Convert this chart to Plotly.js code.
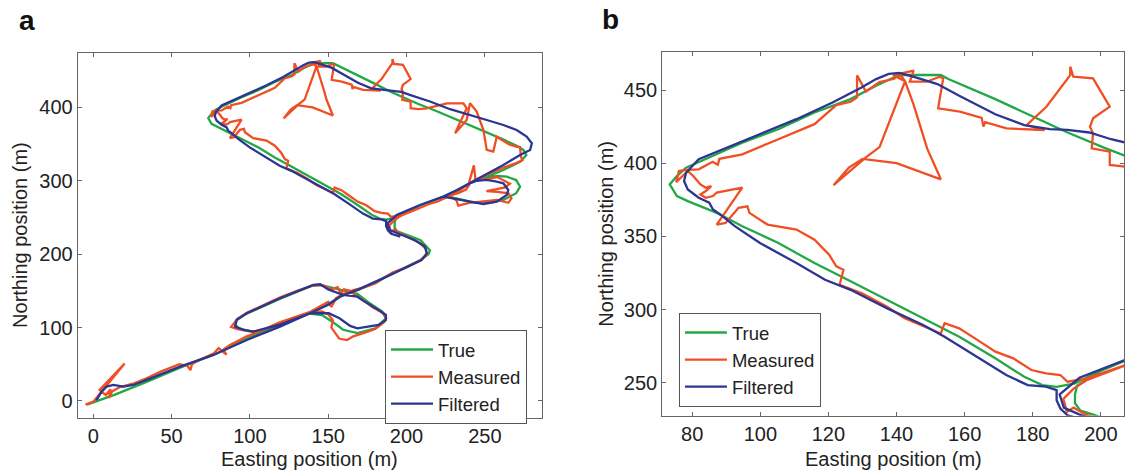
<!DOCTYPE html>
<html>
<head>
<meta charset="utf-8">
<script src="https://cdn.plot.ly/plotly-3.0.1.min.js"></script>
<style>html,body{margin:0;padding:0;background:#fff;}#chart{width:1128px;height:474px;}</style>
</head>
<body>
<div id="chart"></div>
<script>
// ---- Data (metres) ----
const seriesNames = ["True", "Measured", "Filtered"];

const trueX = [-4,4,13,34,55,77,98,104,119,138,146,152.6,159.5,168.6,180,186.8,184.5,176,168.6,160,153,145,140,119,98,92,90,93,100,104,119,138,150,160,170,191,209,214,215,212,209,198,194,192.4,192.4,193,200,208,216,223,232,240.5,249,257.6,264,270,272.5,270,262,249,240.5,232,225,232,240.5,249,261.8,272.5,274,276.5,274.6,270,262,249,235,219,207.2,200.9,190.2,179.6,169,155.2,153,142.4,139.3,134,126.5,115.9,105.3,94.7,84,78.2,75.5,73.4,75.5,78.7,87.2,94.7,105.3,115.9,126.5,137.1,147.8,158.4,169,177.5,182.8,187,192.4,200.9];
const trueY = [-5,1,8,26,45,63,84,91,104,119,117,108,97,92.5,99,112.6,121.7,134,146,150,153.5,158,157.5,139,119,112,105,99,95,93,104,119,132,145,152,174,192,200,205,212,219,228,231,236,242,248,258,266,272,278,287,296.6,303.4,306.5,305.6,301,292,283,274,269.3,271.6,276,278.5,287,296.6,303.4,314.7,326,329,335,342,348,356,368,381,395,405,410.7,421,432.4,443.8,457.5,460.3,460.3,458.7,452.9,443.8,434.7,423.3,414,402.7,397,391.2,385.5,377.5,374.1,366.1,357,345.5,331.8,319.3,306.7,294.1,281.5,266.7,254.1,248.4,247.2,249.5,259.8];

const measX = [-5,0,20,4,8,11,10,12,17,26,34,43,55,60,62,63,66,77,80,85,83,87,98,104,119,130,138,146,150,153,152,156,157,162,166,172,180,186,187,185,178,175,168,164,160,158,156,152,146,140,130,119,108,98,92,89,88,92,95,100,106,112,119,130,138,144,150,152,155,160,166,172,180,191,200,209,213,212,208,200,195,192,190,189,192,196,205,214,220,228,233,238,240,240,243,244,250,258,266,263,256,251,258,265,267,265,258,250,240,233,232,228,236,243,252,262,270,274,273,272.5,270,265,257.6,255.4,251.2,249.1,244.8,240.5,238.4,231,238.4,236.3,225.7,212.9,207.5,202.6,202.6,197.3,197.7,196.8,197.7,202.6,197.7,191.9,191,191,184,178.2,183.5,172.3,166,165.5,165,158.6,152.2,153.7,152.7,148.8,143.9,145,139,142.5,135,131,121.5,126,130,140,153,149,147,145,142.5,140.9,139.3,135,131,128.4,128.4,126.5,122.3,115.9,105.3,94.7,88,87.5,86,81.9,78.2,76.1,75.3,78.7,80.3,82.4,84,85.6,84,82.4,84,86.1,87.2,94.7,87.2,89.8,93.6,96.2,96.8,102.1,110.6,115.9,120.2,122.3,124.4,123.3,130,137.1,142.4,153,154.1,158.4,163.7,169,174.3,179.6,183.9,188.1,190.2,196,207.2];
const measY = [-5,-1,51,15,8,16,4,13,19,24,31,40,50,48,42,50,54,65,72,63,70,76,88,93,107,115,121,122,118,110,100,88,85,83,88,92,98,108,113,120,128,133,143,150,152,146,155,152,158,157,150,141,130,120,112,104,101,98,97,95,95,100,106,114,121,128,135,128,140,146,151,154,160,175,182,192,200,208,216,224,229,233,230,239,246,252,260,268,272,280,283,288,294,298,321,302,302,305,296,291,288,286,285,283,276,270,274,272,270,266,273,279,290,300,309,318,324,328,333,346,346.5,350,360,339.7,342,369.2,394.2,405.5,382.8,364.7,398.7,405.5,405.5,398.7,397.6,398.8,407.9,410.2,420.4,425,430.7,438.6,458,459.1,466,460.2,438.6,426.1,422.7,423.8,428,425,431,435.2,437.5,458,459.1,455.7,455.7,463.2,460.2,456,411,404,385,397,403,400,389,410,425,440,456,461.1,457.7,455.4,449,460,445,442,439.7,426.7,416.4,406.1,403,399,401,395.8,395.4,394.7,387.1,394.7,391.3,385.5,383.3,384.4,381,378.7,376.4,377.6,380,383.3,358.1,359.2,369.5,370.6,366.1,358.1,354.7,347.8,337.5,329.5,327.2,317,311,302.1,294.1,283.7,290.7,287.2,279.3,271.3,266.7,258.7,256.4,255.3,250.7,253,262.1];

const filtX = [2,5.3,8.5,12.8,19.2,25.6,34.1,55.4,76.7,98,119.2,138.4,150.3,157.2,164,168.6,182.2,186.8,186.8,182.2,172,168.6,159.5,150,144.8,140.5,119.2,98,91.6,90.5,95.8,102.2,110,119.2,138.4,150,157.6,168.2,183,191.4,209.6,213,211.8,205,193.6,189.1,187.9,191.4,193.7,208.6,223.5,232,240.5,244.8,251.2,257.6,261.8,265,264,257.6,249.1,240.5,229.9,223.5,232,240.5,251,261.8,272.5,278.9,280,276.7,270.3,261.8,251.2,240.5,227.8,215,207.2,203,196.6,190.2,185,177.5,169,158.4,152,145.6,140.9,137.7,134,129.7,121.2,110.6,99.9,89.3,81.9,78.2,77.6,78.7,81.9,85,86.1,88.2,92.5,99.9,110.6,119,126.5,137.1,147.8,154.1,163.7,172.2,178.5,183.9,187,187,188.1,190.2,196];
const filtY = [1,12.8,19.6,21.8,19.6,21.8,28.7,46.8,62.7,83.1,101.3,119.5,119.5,112.6,102.2,99,103.6,110.4,117.2,124,137,142.2,144.4,152,159,158,139.9,119.5,110.4,101.3,96.8,94.5,99,104,119.5,131,142.2,151,165,173.9,192.1,201.2,210.3,219.3,228.4,233,242,248.9,253.4,267,278.4,287,296.6,300,301.1,298.8,296.6,287.5,280.7,271.6,268.4,271.6,276.1,278.4,287,296.6,309,321.5,335.2,342,351,360.1,369.2,376,382.8,389.7,397.5,408,414.1,416.4,421,422.8,423.3,426,433.5,446.1,454.1,458.7,461.7,461,457.5,451.8,441.5,430.1,419.8,409.5,402.7,393.5,387.8,382.1,376.4,373,368.4,365,357,345.5,331.8,320.4,313.5,301,289.5,281.5,267.8,255.3,248.4,247.3,245,238.1,232.4,227.8,224];

const xTicksA = [0,50,100,150,200,250];
const yTicksA = [0,100,200,300,400];
const xTicksB = [80,100,120,140,160,180,200];
const yTicksB = [250,300,350,400,450];

// ---- Styles ----
const FONT = '"Liberation Sans", Arial, Helvetica, sans-serif';
const colors = {True:'#22A846', Measured:'#F04E23', Filtered:'#2B3592'};
const seriesX = {True:trueX, Measured:measX, Filtered:filtX};
const seriesY = {True:trueY, Measured:measY, Filtered:filtY};

const traces = [];
[['x','y','legend'],['x2','y2','legend2']].forEach(([xa,ya,lg]) => {
  seriesNames.forEach(n => {
    traces.push({
      type:'scatter', mode:'lines', name:n,
      x:seriesX[n], y:seriesY[n], xaxis:xa, yaxis:ya, legend:lg,
      line:{color:colors[n], width:2.3}, hoverinfo:'skip'
    });
  });
});

const axisBase = {
  showgrid:false, zeroline:false, showline:true, linecolor:'#666', linewidth:1,
  mirror:'ticks', ticks:'inside', ticklen:4, tickcolor:'#666', tickwidth:1,
  tickfont:{family:FONT, size:20, color:'#222'}, tickmode:'array'
};

const legendBase = {
  xanchor:'left', yanchor:'top', xref:'paper', yref:'paper',
  bgcolor:'#fff', bordercolor:'#555', borderwidth:1, itemwidth:42,
  font:{family:FONT, size:18.5, color:'#222'}, tracegroupgap:0
};

const ann = (text, x, y, opts) => Object.assign({
  text, x, y, xref:'paper', yref:'paper', showarrow:false,
  xanchor:'center', yanchor:'middle', font:{family:FONT, size:20, color:'#222'}
}, opts||{});

const layout = {
  width:1128, height:474, margin:{l:0,r:0,t:0,b:0},
  paper_bgcolor:'#fff', plot_bgcolor:'#fff',
  font:{family:FONT, size:20, color:'#222'},
  showlegend:true,
  xaxis:Object.assign({}, axisBase, {domain:[0.0689,0.4805], range:[-9.96,286.5], tickvals:xTicksA, anchor:'y'}),
  yaxis:Object.assign({}, axisBase, {domain:[0.1188,0.8882], range:[-22.8,474.1], tickvals:yTicksA, anchor:'x'}),
  xaxis2:Object.assign({}, axisBase, {domain:[0.5871,0.9965], range:[71.2,206.8], tickvals:xTicksB, anchor:'y2'}),
  yaxis2:Object.assign({}, axisBase, {domain:[0.1230,0.8909], range:[227.5,476.2], tickvals:yTicksB, anchor:'x2'}),
  legend:Object.assign({}, legendBase, {x:0.3413, y:0.3038}),
  legend2:Object.assign({}, legendBase, {x:0.6019, y:0.3397}),
  annotations:[
    ann('<b>a</b>', 0.0239, 0.9563, {font:{family:FONT, size:28, color:'#111'}}),
    ann('<b>b</b>', 0.5408, 0.9580, {font:{family:FONT, size:28, color:'#111'}}),
    ann('Easting position (m)', 0.2748, 0.0316),
    ann('Easting position (m)', 0.7918, 0.0316),
    ann('Northing position (m)', 0.0182, 0.5034, {textangle:-90}),
    ann('Northing position (m)', 0.5372, 0.5070, {textangle:-90})
  ]
};

Plotly.newPlot('chart', traces, layout, {staticPlot:true, displayModeBar:false});
</script>
</body>
</html>
